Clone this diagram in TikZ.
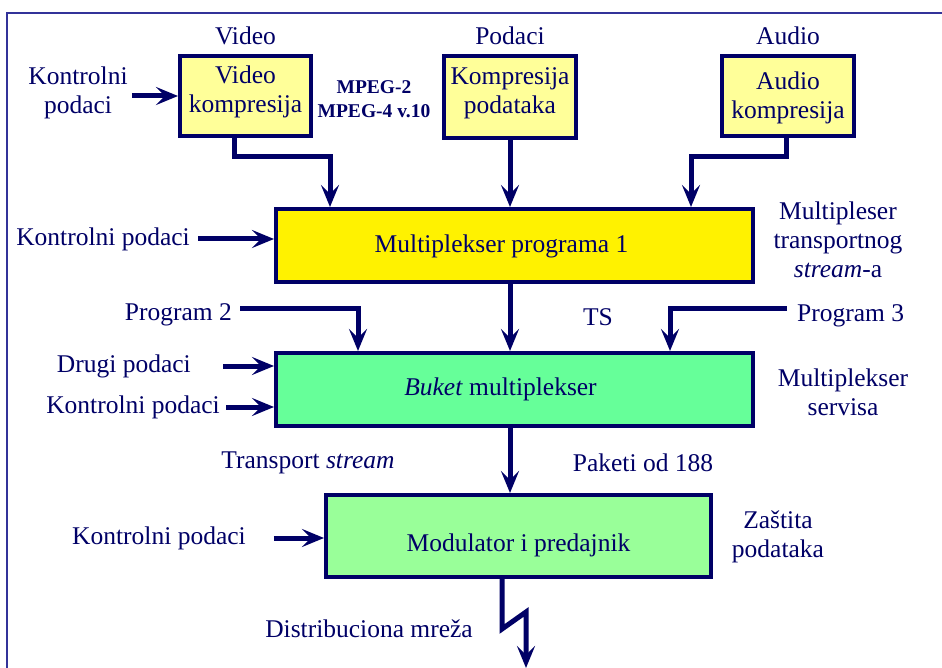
\documentclass[tikz,border=0pt]{standalone}
\usepackage{fontspec}
\setmainfont{Liberation Serif}
\usetikzlibrary{positioning,arrows.meta}
\definecolor{navy}{HTML}{000066}
\definecolor{paleyellow}{HTML}{FFFF99}
\definecolor{paleGreen}{HTML}{99FF99}
\definecolor{mintgreen}{HTML}{66FF99}
\definecolor{framecol}{HTML}{333399}

\begin{document}
\begin{tikzpicture}[
  x=1pt, y=-1pt,
  block/.style={rectangle, draw=navy, line width=4pt, text=navy, align=center, inner sep=0pt},
  lbl/.style={text=navy, align=center, inner sep=0pt},
  conn/.style={draw=navy, line width=5pt, -{Stealth[length=22pt,width=18pt,inset=9pt]}},
  font=\fontsize{25.5}{29}\selectfont
]
\useasboundingbox (0,0) rectangle (942,668);
\draw[framecol, line width=2pt] (7,690) |- (960,13);

% Compression
\node[block, fill=paleyellow, minimum width=131pt, minimum height=80pt,
  label={[lbl, yshift=4pt]center:Video\\kompresija}] (vid) at (245.5,96) {};
\node[block, fill=paleyellow, minimum width=132pt, minimum height=82pt,
  label={[lbl, yshift=4pt]center:Kompresija\\podataka}] (dat) at (510,97) {};
\node[block, fill=paleyellow, minimum width=132pt, minimum height=80pt,
  label={[lbl, yshift=-2pt]center:Audio\\kompresija}] (aud) at (788,96) {};
\node[lbl, above=9pt of vid] (vidlbl) {Video};
\node[lbl, above=9pt of dat] (datlbl) {Podaci};
\node[lbl, above=9pt of aud] (audlbl) {Audio};
\node[lbl] (kp1) at (78,93) {Kontrolni\\podaci};
\node[lbl, font=\fontsize{19.5}{24}\selectfont\bfseries] (mpeg) at (374,99) {MPEG-2\\MPEG-4 v.10};

% Program multiplexer
\node[block, fill=yellow, minimum width=477pt, minimum height=73pt,
  label={[lbl, xshift=-13pt, yshift=-1pt]center:Multiplekser programa 1}] (mux) at (514.5,245.5) {};
\node[lbl, anchor=east] (kp2) at (190,239) {Kontrolni podaci};
\node[lbl] (mtlbl) at (838,240) {Multipleser\\transportnog\\\textit{stream}-a};

% Bouquet multiplexer
\node[block, fill=mintgreen, minimum width=477pt, minimum height=73pt,
  label={[lbl, xshift=-14pt]center:\textit{Buket} multiplekser}] (buket) at (514.5,389.5) {};
\node[lbl, anchor=east] (prog2) at (232,315) {Program 2};
\node[lbl, anchor=west] (prog3) at (797,316) {Program 3};
\node[lbl] (ts) at (598,317) {TS};
\node[lbl, anchor=east] (drugi) at (191,366) {Drugi podaci};
\node[lbl, anchor=east] (kp3) at (220,407) {Kontrolni podaci};
\node[lbl] (mslbl) at (843,392) {Multiplekser\\servisa};

% Modulator
\node[lbl] (tslbl) at (308,463) {Transport \textit{stream}};
\node[lbl] (paketi) at (643,463) {Paketi od 188};
\node[block, fill=paleGreen, minimum width=385pt, minimum height=82pt,
  label={[lbl, yshift=-9pt]center:Modulator i predajnik}] (mod) at (518.5,536) {};
\node[lbl] (kp4) at (159,538) {Kontrolni podaci};
\node[lbl] (zastita) at (778,537) {Zaštita\\podataka};
\node[lbl] (distr) at (369,629) {Distribuciona mreža};
\coordinate (out) at (526,668);

% Connections
\draw[conn] ([xshift=4pt]kp1.east |- vid.west) -- (vid.west);
\draw[conn] ([xshift=-11.5pt]vid.south) -- ++(0,19) -| ([xshift=-184.5pt]mux.north);
\draw[conn] (dat.south) -- (dat.south |- mux.north);
\draw[conn] ([xshift=-2pt]aud.south) -- ++(0,19) -| ([xshift=176.5pt]mux.north);
\draw[conn] ([xshift=8pt]kp2.east) -- (kp2.east -| mux.west);
\draw[conn] (mux.south -| dat.south) -- (buket.north -| dat.south);
\draw[conn] ([xshift=8pt,yshift=7pt]prog2.east) -| ([xshift=-156.5pt]buket.north);
\draw[conn] ([xshift=-10pt,yshift=8pt]prog3.west) -| ([xshift=155.5pt]buket.north);
\draw[conn] ([xshift=32pt]drugi.east) -- (drugi.east -| buket.west);
\draw[conn] ([xshift=6pt]kp3.east) -- (kp3.east -| buket.west);
\draw[conn] (buket.south -| dat.south) -- (mod.north -| dat.south);
\draw[conn] ([xshift=28pt]kp4.east) -- (kp4.east -| mod.west);
\draw[conn] ([xshift=-16.5pt]mod.south) -- ++(0,50) -- ++(24,-17) -- (out);
\end{tikzpicture}
\end{document}
